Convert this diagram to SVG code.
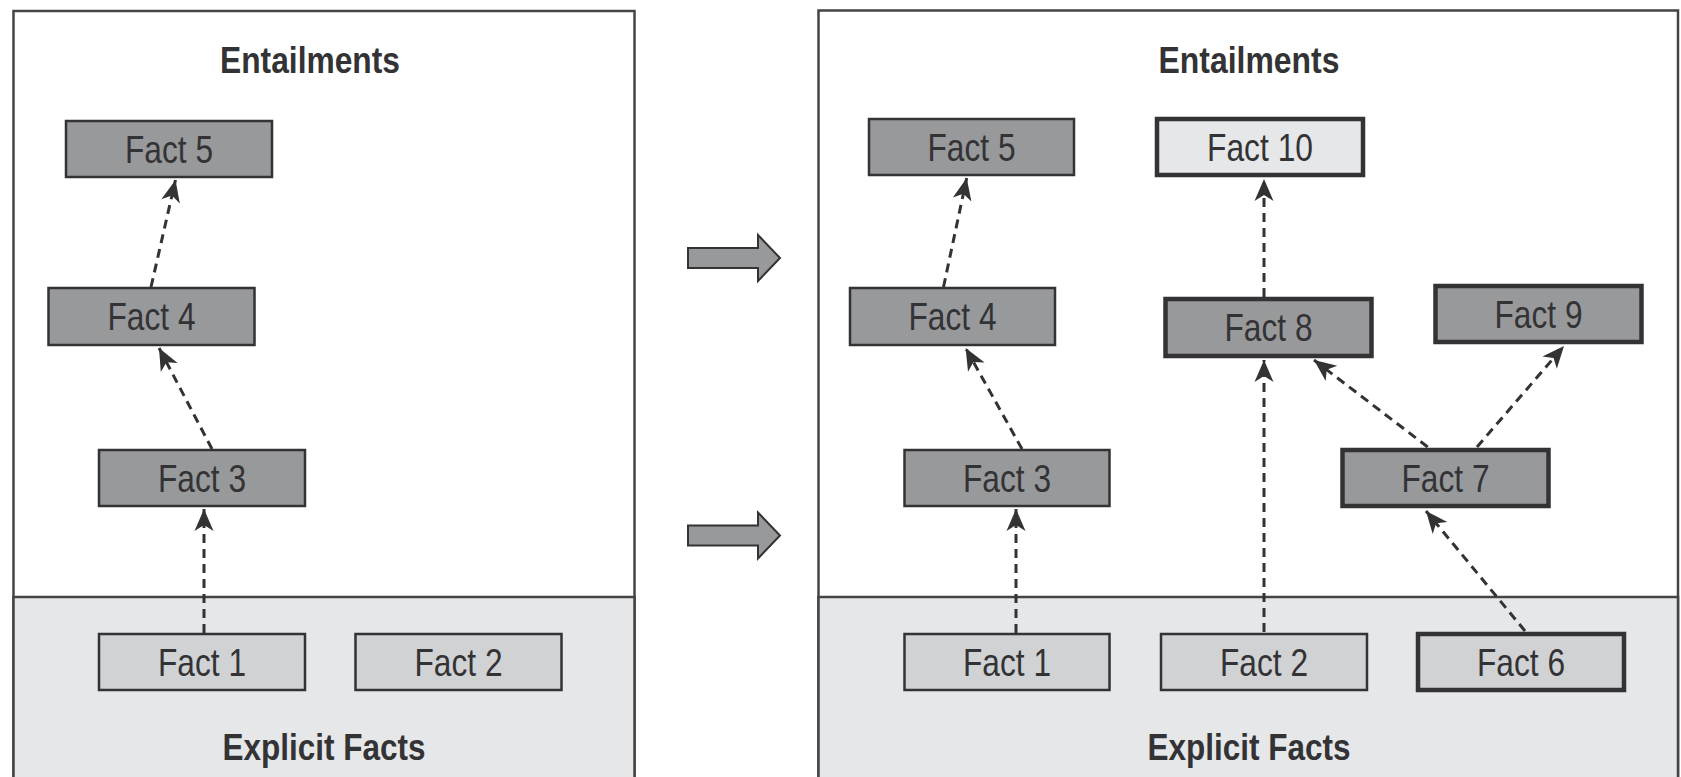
<svg xmlns="http://www.w3.org/2000/svg" width="1681" height="777" viewBox="0 0 1681 777">
  <style>
    .panel { fill: #ffffff; stroke: #444446; stroke-width: 2.5; }
    .band { fill: #e6e7e8; stroke: #444446; stroke-width: 2.5; }
    .dark { fill: #98999b; stroke: #333335; stroke-width: 2.5; }
    .light { fill: #d1d2d4; stroke: #333335; stroke-width: 2.5; }
    .pale { fill: #e6e7e8; stroke: #333335; stroke-width: 2.5; }
    .thick { stroke-width: 4.5; }
    .label { font-family: "Liberation Sans Narrow", "Liberation Sans", Arial, sans-serif; font-size: 39px; fill: #333335; text-anchor: middle; }
    .title { font-family: "Liberation Sans Narrow", "Liberation Sans", Arial, sans-serif; font-size: 36px; font-weight: bold; fill: #333335; text-anchor: middle; }
    .link { fill: none; stroke: #333335; stroke-width: 3; stroke-dasharray: 9 6; marker-end: url(#head); }
    .step { fill: #98999b; stroke: #333335; stroke-width: 2; }
  </style>
  <defs>
    <marker id="head" markerUnits="userSpaceOnUse" markerWidth="24" markerHeight="22" refX="22" refY="11" orient="auto" overflow="visible">
      <path d="M22,11 L0,1.5 L6,11 L0,20.5 Z" fill="#333335"/>
    </marker>
  </defs>

  <!-- left panel: before inference -->
  <g id="panel-before">
    <rect class="panel" x="13.5" y="11" width="621" height="800"/>
    <rect class="band" x="13.5" y="597" width="621" height="214"/>
    <text class="title" x="310" y="73" textLength="180" lengthAdjust="spacingAndGlyphs">Entailments</text>
    <text class="title" x="324" y="760" textLength="203" lengthAdjust="spacingAndGlyphs">Explicit Facts</text>
  </g>

  <!-- right panel: after inference -->
  <g id="panel-after">
    <rect class="panel" x="818.5" y="10.5" width="859.5" height="800"/>
    <rect class="band" x="818.5" y="597" width="859.5" height="214"/>
    <text class="title" x="1249" y="73" textLength="181" lengthAdjust="spacingAndGlyphs">Entailments</text>
    <text class="title" x="1249" y="760" textLength="203" lengthAdjust="spacingAndGlyphs">Explicit Facts</text>
  </g>

  <!-- transition arrows between panels -->
  <g id="transition-arrows">
    <polygon class="step" points="688,248 758,248 758,235 780,258 758,281 758,268 688,268"/>
    <polygon class="step" points="688,525.5 758,525.5 758,512.5 780,535.5 758,558.5 758,545.5 688,545.5"/>
  </g>

  <!-- left panel nodes -->
  <g id="l-fact5"><rect class="dark" x="66" y="121" width="206" height="56"/><text class="label" x="169" y="163" textLength="88" lengthAdjust="spacingAndGlyphs">Fact 5</text></g>
  <g id="l-fact4"><rect class="dark" x="48.5" y="288" width="206" height="57"/><text class="label" x="151.5" y="330" textLength="88" lengthAdjust="spacingAndGlyphs">Fact 4</text></g>
  <g id="l-fact3"><rect class="dark" x="99" y="450" width="206" height="56"/><text class="label" x="202" y="492" textLength="88" lengthAdjust="spacingAndGlyphs">Fact 3</text></g>
  <g id="l-fact1"><rect class="light" x="99" y="634" width="206" height="56"/><text class="label" x="202" y="676" textLength="88" lengthAdjust="spacingAndGlyphs">Fact 1</text></g>
  <g id="l-fact2"><rect class="light" x="355.5" y="634" width="206" height="56"/><text class="label" x="458.5" y="676" textLength="88" lengthAdjust="spacingAndGlyphs">Fact 2</text></g>

  <!-- right panel nodes -->
  <g id="r-fact5"><rect class="dark" x="869" y="119" width="205" height="56"/><text class="label" x="971.5" y="161" textLength="88" lengthAdjust="spacingAndGlyphs">Fact 5</text></g>
  <g id="r-fact10"><rect class="pale thick" x="1157" y="119" width="206" height="56"/><text class="label" x="1260" y="161" textLength="106" lengthAdjust="spacingAndGlyphs">Fact 10</text></g>
  <g id="r-fact4"><rect class="dark" x="850" y="288" width="205" height="57"/><text class="label" x="952.5" y="330" textLength="88" lengthAdjust="spacingAndGlyphs">Fact 4</text></g>
  <g id="r-fact8"><rect class="dark thick" x="1165.5" y="299" width="206" height="57"/><text class="label" x="1268.5" y="341" textLength="88" lengthAdjust="spacingAndGlyphs">Fact 8</text></g>
  <g id="r-fact9"><rect class="dark thick" x="1435.5" y="286" width="206" height="56"/><text class="label" x="1538.5" y="328" textLength="88" lengthAdjust="spacingAndGlyphs">Fact 9</text></g>
  <g id="r-fact3"><rect class="dark" x="904.5" y="450" width="205" height="56"/><text class="label" x="1007" y="492" textLength="88" lengthAdjust="spacingAndGlyphs">Fact 3</text></g>
  <g id="r-fact7"><rect class="dark thick" x="1342.5" y="450" width="206" height="56"/><text class="label" x="1445.5" y="492" textLength="88" lengthAdjust="spacingAndGlyphs">Fact 7</text></g>
  <g id="r-fact1"><rect class="light" x="904.5" y="634" width="205" height="56"/><text class="label" x="1007" y="676" textLength="88" lengthAdjust="spacingAndGlyphs">Fact 1</text></g>
  <g id="r-fact2"><rect class="light" x="1161" y="634" width="206" height="56"/><text class="label" x="1264" y="676" textLength="88" lengthAdjust="spacingAndGlyphs">Fact 2</text></g>
  <g id="r-fact6"><rect class="light thick" x="1418" y="634" width="206" height="56"/><text class="label" x="1521" y="676" textLength="88" lengthAdjust="spacingAndGlyphs">Fact 6</text></g>

  <!-- inference connectors -->
  <g id="connectors">
    <line class="link" x1="204" y1="633" x2="204" y2="509"/>
    <line class="link" x1="212" y1="449" x2="159" y2="348"/>
    <line class="link" x1="151" y1="287" x2="175.5" y2="180"/>

    <line class="link" x1="1016" y1="633" x2="1016" y2="509"/>
    <line class="link" x1="1022" y1="449" x2="965.6" y2="348"/>
    <line class="link" x1="943.5" y1="287" x2="966.7" y2="178"/>
    <line class="link" x1="1264" y1="632" x2="1264" y2="360"/>
    <line class="link" x1="1264" y1="297" x2="1264" y2="179"/>
    <line class="link" x1="1525" y1="631" x2="1426" y2="511"/>
    <line class="link" x1="1427.7" y1="447" x2="1314" y2="360"/>
    <line class="link" x1="1477" y1="447" x2="1564" y2="346"/>
  </g>
</svg>
